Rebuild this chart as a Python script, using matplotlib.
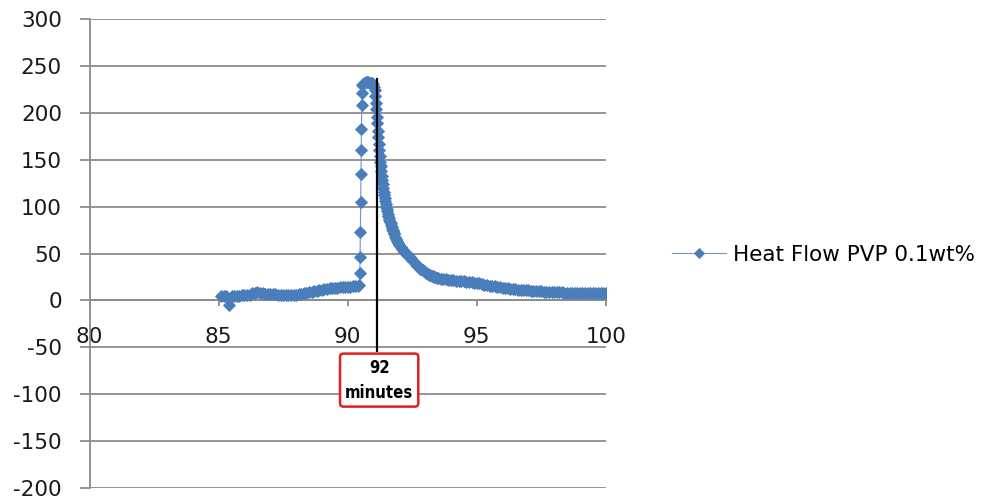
import numpy as np
import matplotlib
matplotlib.use("Agg")
import matplotlib.pyplot as plt

plt.rcParams['font.family'] = ['DejaVu Sans']
plt.rcParams['axes.unicode_minus'] = False

# time (minutes) and heat flow
time_base = [85.1, 85.2, 85.3, 85.4, 85.5, 85.6, 85.7, 85.8, 85.9, 86.0,
             86.1, 86.2, 86.3, 86.4, 86.5, 86.6, 86.7, 86.8, 86.9, 87.0,
             87.1, 87.2, 87.3, 87.4, 87.5, 87.6, 87.7, 87.8, 87.9, 88.0,
             88.1, 88.2, 88.3, 88.4, 88.5, 88.6, 88.7, 88.8, 88.9, 89.0,
             89.1, 89.2, 89.3, 89.4, 89.5, 89.6, 89.7, 89.8, 89.9, 90.0,
             90.1, 90.2, 90.3, 90.4, 90.45]
heat_base = [5.0, 5.0, 5.0, -4.5, 5.0, 5.0, 5.1, 5.2, 5.3, 5.5,
             5.7, 6.2, 7.5, 8.3, 8.5, 8.3, 7.8, 7.3, 7.0, 6.8,
             6.6, 6.4, 6.2, 6.0, 5.8, 5.7, 5.6, 5.6, 5.7, 6.0,
             6.4, 6.9, 7.4, 8.0, 8.6, 9.2, 9.8, 10.4, 11.0, 11.5,
             12.0, 12.4, 12.8, 13.1, 13.4, 13.7, 14.0, 14.2, 14.4, 14.6,
             14.8, 15.0, 15.2, 15.5, 16.5]

time_peak = [90.47, 90.48, 90.49, 90.50, 90.51, 90.52, 90.53, 90.54, 90.55, 90.57,
             90.60, 90.65, 90.70, 90.75, 90.80, 90.85, 90.90, 90.95]
heat_peak = [29.6, 46.6, 73, 105, 134.5, 160, 183, 208, 221, 230,
             231, 232, 232.5, 232.5, 232.5, 232, 232, 231.5]

time_decay = [91.00, 91.02, 91.04, 91.06, 91.08, 91.10, 91.12, 91.14, 91.16, 91.18,
              91.20, 91.22, 91.24, 91.26, 91.28, 91.30, 91.32, 91.34, 91.36, 91.38,
              91.40, 91.42, 91.44, 91.46, 91.48, 91.50, 91.52, 91.54, 91.56, 91.58,
              91.60, 91.62, 91.64, 91.66, 91.68, 91.70, 91.72, 91.74, 91.76, 91.78,
              91.80, 91.84, 91.88, 91.92, 91.96, 92.00,
              92.05, 92.10, 92.15, 92.20, 92.25, 92.30, 92.35, 92.40, 92.45, 92.50,
              92.55, 92.60, 92.65, 92.70, 92.75, 92.80, 92.85, 92.90, 92.95, 93.00,
              93.05, 93.10, 93.15, 93.20, 93.25, 93.30, 93.35, 93.40, 93.45, 93.50]
heat_decay = [231, 228, 224, 218, 211, 204, 196, 189, 181, 174,
              167, 160, 154, 148, 143, 138, 133, 128, 124, 120,
              116, 112, 109, 106, 103, 100, 97, 95, 92, 90,
              88, 86, 84, 82, 80, 78, 76.5, 75, 73.5, 72,
              70.5, 68, 65.5, 63, 61, 59,
              57, 55, 53.5, 52, 50.5, 49, 47.5, 46, 44.5, 43,
              41.5, 40, 38.5, 37, 35.5, 34, 33, 32, 31, 30,
              29, 28.3, 27.6, 27, 26.4, 25.8, 25.3, 24.8, 24.4, 24]

time_tail = [93.6, 93.7, 93.8, 93.9, 94.0, 94.1, 94.2, 94.3, 94.4, 94.5,
             94.6, 94.7, 94.8, 94.9, 95.0, 95.1, 95.2, 95.3, 95.4, 95.5,
             95.6, 95.7, 95.8, 95.9, 96.0, 96.1, 96.2, 96.3, 96.4, 96.5,
             96.6, 96.7, 96.8, 96.9, 97.0, 97.1, 97.2, 97.3, 97.4, 97.5,
             97.6, 97.7, 97.8, 97.9, 98.0, 98.1, 98.2, 98.3, 98.4, 98.5,
             98.6, 98.7, 98.8, 98.9, 99.0, 99.1, 99.2, 99.3, 99.4, 99.5,
             99.6, 99.7, 99.8, 99.9, 100.0]
heat_tail = [23.3, 22.8, 22.4, 22.0, 21.7, 21.4, 21.1, 20.8, 20.5, 20.2,
             19.9, 19.6, 19.3, 19.0, 18.6, 18.1, 17.5, 16.9, 16.3, 15.8,
             15.3, 14.9, 14.5, 14.1, 13.7, 13.3, 12.9, 12.5, 12.1, 11.8,
             11.5, 11.2, 11.0, 10.8, 10.6, 10.4, 10.2, 10.0, 9.8, 9.6,
             9.4, 9.2, 9.0, 8.9, 8.8, 8.7, 8.6, 8.5, 8.4, 8.3,
             8.2, 8.1, 8.0, 7.9, 7.9, 7.8, 7.8, 7.7, 7.7, 7.6,
             7.6, 7.5, 7.5, 7.4, 7.4]

marker_time = 91.15
marker_label = "92\nminutes"
series_name = "Heat Flow PVP 0.1wt%"

x_ticks = [80, 85, 90, 95, 100]
y_ticks = [-200, -150, -100, -50, 0, 50, 100, 150, 200, 250, 300]

time = time_base + time_peak + time_decay + time_tail
heat = heat_base + heat_peak + heat_decay + heat_tail

fig = plt.figure(figsize=(10.02, 5.01), dpi=100)
ax = fig.add_axes([0.0895, 0.026, 0.515, 0.936])

grid_c = '#8c8c8c'
ax.set_xlim(80, 100)
ax.set_ylim(-200, 300)
ax.set_yticks(y_ticks)
ax.set_xticks(x_ticks)
ax.yaxis.grid(True, color=grid_c, linewidth=1.3)
ax.set_axisbelow(True)

for s in ['top', 'right']:
    ax.spines[s].set_visible(False)
ax.spines['left'].set_color(grid_c)
ax.spines['left'].set_linewidth(1.3)
ax.spines['bottom'].set_position(('data', 0))
ax.spines['bottom'].set_color(grid_c)
ax.spines['bottom'].set_linewidth(1.3)

ax.tick_params(axis='y', direction='out', length=7, width=1.3, color=grid_c,
               pad=13, labelsize=15.5, labelcolor='#1a1a1a')
ax.tick_params(axis='x', direction='out', length=4, width=1.3, color=grid_c,
               pad=15, labelsize=15.5, labelcolor='#1a1a1a')

ax.plot(time, heat, color='#6f93c6', linewidth=0.8, marker='D',
        markersize=6.4, markerfacecolor='#4a7ebb', markeredgecolor='#4a7ebb',
        markeredgewidth=0.6, label=series_name, zorder=3)

# vertical marker line and callout
ax.plot([marker_time, marker_time], [236, -54], color='black', linewidth=1.6, zorder=4)
ax.text(marker_time + 0.07, -85, marker_label, ha='center', va='center',
        fontsize=12, fontweight='bold', fontstretch='condensed', linespacing=1.5,
        bbox=dict(boxstyle='round,pad=0.3,rounding_size=0.2', fc='white',
                  ec='#e02020', lw=1.8), zorder=5)

ax.legend(loc='center left', bbox_to_anchor=(0.671, 0.491),
          bbox_transform=fig.transFigure, frameon=False, fontsize=15.5,
          borderaxespad=0, borderpad=0, handlelength=2.5, handletextpad=0.3,
          markerscale=0.85)

fig.savefig('out.png', dpi=100)
